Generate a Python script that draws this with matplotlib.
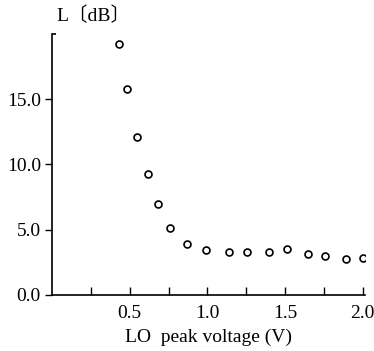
import matplotlib.pyplot as plt
import numpy as np

# LO peak voltage (V) and loss L (dB)
volts = [0.432, 0.484, 0.548, 0.619, 0.684, 0.761, 0.871, 0.994,
         1.142, 1.258, 1.394, 1.510, 1.645, 1.755, 1.890, 2.000]
loss = [19.2, 15.8, 12.1, 9.3, 7.0, 5.1, 3.9, 3.45,
        3.25, 3.3, 3.3, 3.55, 3.1, 2.95, 2.75, 2.85]

x_ticks = [0.5, 1.0, 1.5, 2.0]
x_minor = [0.25, 0.75, 1.25, 1.75]
y_ticks = [0.0, 5.0, 10.0, 15.0]

plt.rcParams['font.family'] = ['Liberation Serif', 'Noto Sans CJK JP']

fig = plt.figure(figsize=(3.74, 3.51), dpi=100)
ax = fig.add_axes([0.139, 0.16, 0.837, 0.743])

ax.plot(volts, loss, linestyle='none', marker='o', markersize=5,
        markerfacecolor='white', markeredgecolor='black', markeredgewidth=1.2)

ax.set_xlim(0, 2.015)
ax.set_ylim(0, 20)

ax.spines['right'].set_color('none')
ax.spines['top'].set_color('none')
ax.spines['left'].set_linewidth(1.2)
ax.spines['bottom'].set_linewidth(1.2)

ax.set_xticks(x_ticks)
ax.set_xticklabels(['%.1f' % v for v in x_ticks], fontsize=14)
ax.set_xticks(x_minor, minor=True)
ax.tick_params(axis='x', which='both', direction='in', length=6, width=1, pad=7)

ax.set_yticks(y_ticks)
ax.set_yticklabels(['%.1f' % v for v in y_ticks], fontsize=14)
ax.set_yticks([20], minor=True)
ax.tick_params(axis='y', which='major', direction='out', length=5, width=1, pad=3)
ax.tick_params(axis='y', which='minor', direction='in', length=3, width=1.2)

ax.set_xlabel('LO  peak voltage (V)', fontsize=14, labelpad=5)
fig.text(0.15, 0.955, 'L〔dB〕', fontsize=14, ha='left', va='center')

fig.savefig('out.png', dpi=100)
